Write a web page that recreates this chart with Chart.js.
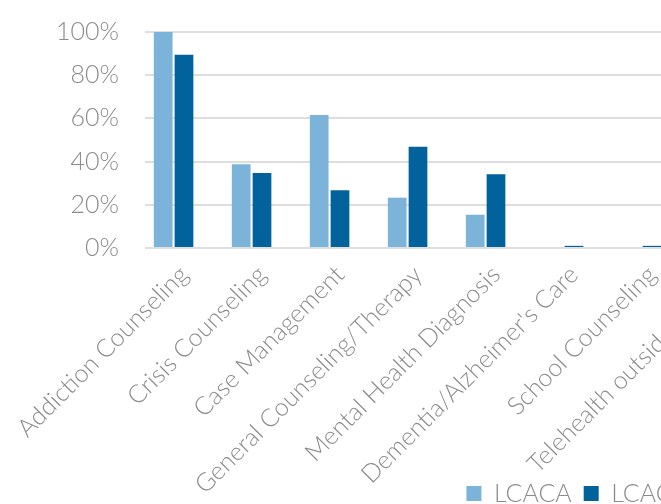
<!DOCTYPE html>
<html>
<head>
<meta charset="utf-8">
<script src="https://cdn.jsdelivr.net/npm/chart.js@4"></script>
<style>
  html, body { margin: 0; padding: 0; background: #fff; overflow: hidden; }
  #wrap { position: relative; width: 1086px; height: 504px; }
</style>
</head>
<body>
<div id="wrap"><canvas id="servicesChart"></canvas></div>
<script>
// categories (the right end of the chart is cropped in the reference)
const categories = [
    'Addiction Counseling',
    'Crisis Counseling',
    'Case Management',
    'General Counseling/Therapy',
    'Mental Health Diagnosis',
    "Dementia/Alzheimer's Care",
    'School Counseling',
    'Telehealth outside Indiana'
];

const seriesNames = ['LCACA', 'LCAC'];

// percent of respondents
const lcacaValues = [100, 38.8, 61.6, 23.3, 15.4, 0, 0, 0];
const lcacValues = [89.5, 34.7, 26.7, 46.9, 34.2, 1, 1, 1];

const yTicks = [0, 20, 40, 60, 80, 100];

const textGray = '#8c8c8c';
const fontFamily = 'Lato, sans-serif';

// rotated labels run down beside the legend, so don't clip them to the axis box
const labelRoom = {
    id: 'labelRoom',
    afterLayout: c => { c.scales.x.bottom = c.height; }
};

const ctx = document.getElementById('servicesChart').getContext('2d');
const chart = new Chart(ctx, {
    type: 'bar',
    data: {
        labels: categories,
        datasets: [{
            label: seriesNames[0],
            data: lcacaValues,
            backgroundColor: '#7bb4d8'
        }, {
            label: seriesNames[1],
            data: lcacValues,
            backgroundColor: '#02629b'
        }, {
            // third slot in each group is empty in the visible part
            label: '',
            data: [],
            backgroundColor: 'rgba(0,0,0,0)'
        }]
    },
    options: {
        responsive: true,
        maintainAspectRatio: false,
        animation: false,
        layout: {
            padding: { top: 32, left: 53, bottom: -12 }
        },
        plugins: {
            legend: {
                position: 'bottom',
                labels: {
                    filter: item => item.text !== '',
                    boxWidth: 15,
                    boxHeight: 15,
                    padding: 12,
                    color: textGray,
                    font: { family: fontFamily, size: 25, weight: '300' }
                }
            },
            tooltip: { enabled: false }
        },
        scales: {
            x: {
                grid: { display: false },
                border: { display: false },
                ticks: {
                    autoSkip: false,
                    minRotation: 45,
                    maxRotation: 45,
                    padding: 4,
                    color: textGray,
                    font: { family: fontFamily, size: 25, weight: '300' }
                },
                afterFit: scale => { scale.height -= 21; }
            },
            y: {
                min: 0,
                max: 100,
                afterBuildTicks: scale => {
                    scale.ticks = yTicks.map(v => ({ value: v }));
                },
                grid: {
                    color: '#dedede',
                    lineWidth: 2,
                    tickLength: 23,
                    tickColor: 'rgba(0,0,0,0)'
                },
                border: { display: false },
                ticks: {
                    padding: 3,
                    color: textGray,
                    font: { family: fontFamily, size: 25, weight: '300' },
                    callback: value => value + '%'
                }
            },
            spacer: {
                type: 'linear',
                position: 'right',
                display: true,
                grid: { display: false },
                border: { display: false },
                ticks: { display: false },
                afterFit: scale => { scale.width = 317; }
            }
        }
    },
    plugins: [labelRoom]
});
</script>
</body>
</html>
